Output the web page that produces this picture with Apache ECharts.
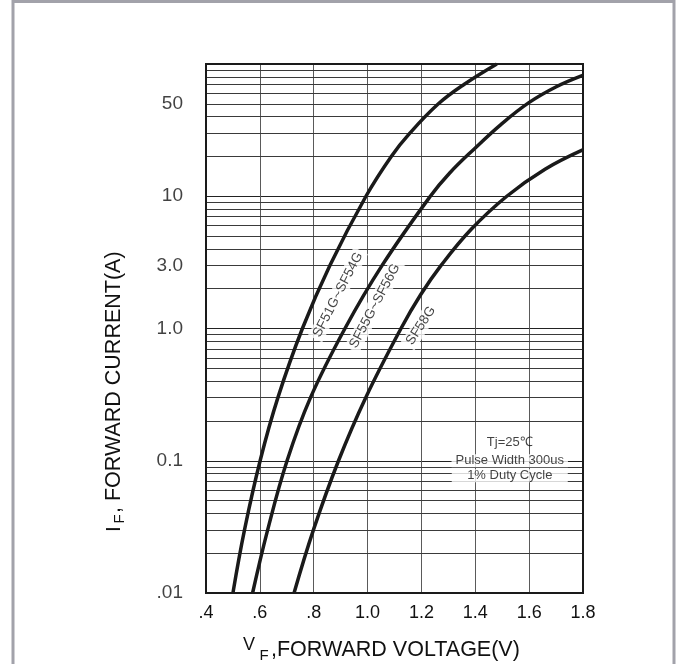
<!DOCTYPE html>
<html><head><meta charset="utf-8">
<script src="https://cdn.jsdelivr.net/npm/echarts@6/dist/echarts.min.js"></script>
<style>html,body{margin:0;padding:0;background:#fff}#c{width:678px;height:664px}</style>
</head><body><div id="c"></div>
<script>
// Tick labels
const xTickValues = [0.4, 0.6, 0.8, 1.0, 1.2, 1.4, 1.6, 1.8];
const xTickLabels = ['.4', '.6', '.8', '1.0', '1.2', '1.4', '1.6', '1.8'];
const yTickValues = [0.01, 0.1, 1, 3, 10, 50];
const yTickLabels = ['.01', '0.1', '1.0', '3.0', '10', '50'];

// Series names
const seriesNames = ['SF51G~SF54G', 'SF55G~SF56G', 'SF58G'];

// SF51G~SF54G : forward voltage VF (V) and forward current IF (A)
const vf1 = [0.500, 0.543, 0.601, 0.667, 0.758, 0.860, 0.994, 1.088, 1.157, 1.263, 1.358, 1.480];
const if1 = [0.01, 0.03, 0.1, 0.3, 1.0, 3.0, 10, 20, 30, 50, 70, 100];

// SF55G~SF56G
const vf2 = [0.573, 0.629, 0.701, 0.788, 0.916, 1.054, 1.233, 1.305, 1.398, 1.496, 1.599, 1.699, 1.799];
const if2 = [0.01, 0.03, 0.1, 0.3, 1.0, 3.0, 10, 15, 23, 35, 51, 67, 82];

// SF58G
const vf3 = [0.727, 0.799, 0.892, 0.993, 1.124, 1.197, 1.273, 1.384, 1.517, 1.659, 1.799];
const if3 = [0.01, 0.03, 0.1, 0.3, 1.0, 1.8, 3.0, 5.6, 10, 16, 22.4];

// Note text
const noteLines = ['Tj=25\u2103', 'Pulse Width 300us', '1% Duty Cycle'];

const FONT = '"Liberation Sans", Arial, Helvetica, sans-serif';
const INK = '#1a1a1a';
const TXT = '#111';

// minor log grid lines (2..9 x 10^k)
const minorGrid = [];
for (let k = -2; k <= 1; k++) {
  for (let m = 2; m <= 9; m++) minorGrid.push(parseFloat((m * Math.pow(10, k)).toPrecision(3)));
}

const zip = (xs, ys) => xs.map((x, i) => [x, ys[i]]);

const chart = echarts.init(document.getElementById('c'), null, { renderer: 'canvas' });

const curveStyle = { color: INK, width: 3.5 };
const curveBase = { type: 'line', z: 5, showSymbol: false, smooth: 0.4, lineStyle: curveStyle, itemStyle: { color: INK } };

chart.setOption({
  animation: false,
  backgroundColor: '#fff',
  textStyle: { fontFamily: FONT },
  grid: { left: 206, right: 95, top: 64, bottom: 71, containLabel: false },
  xAxis: {
    type: 'value', min: 0.4, max: 1.8, interval: 0.2,
    axisLine: { show: false }, axisTick: { show: false },
    axisLabel: {
      fontFamily: FONT, fontSize: 18, color: TXT, margin: 11,
      formatter: v => {
        const i = xTickValues.findIndex(t => Math.abs(t - v) < 1e-6);
        return i >= 0 ? xTickLabels[i] : '';
      }
    },
    splitLine: { show: true, lineStyle: { color: '#5a5a5a', width: 1 } }
  },
  yAxis: {
    type: 'log', logBase: 10, min: 0.01, max: 100,
    axisLine: { show: false }, axisTick: { show: false },
    axisLabel: { show: false },
    splitLine: { show: true, lineStyle: { color: '#222', width: 1 } }
  },
  graphic: [
    { type: 'rect', z: 100, silent: true,
      shape: { x: 13, y: 1.5, width: 661, height: 720 },
      style: { fill: 'none', stroke: '#a2a2aa', lineWidth: 3 } },
    { type: 'rect', z: 100, silent: true,
      shape: { x: 206, y: 64, width: 377, height: 529 },
      style: { fill: 'none', stroke: INK, lineWidth: 2 } },
    // x-axis title
    { type: 'text', z: 100, x: 249, y: 645,
      style: { text: 'V', font: '18px ' + FONT, fill: TXT, align: 'center', verticalAlign: 'middle' } },
    { type: 'text', z: 100, x: 264, y: 656,
      style: { text: 'F', font: '15px ' + FONT, fill: TXT, align: 'center', verticalAlign: 'middle' } },
    { type: 'text', z: 100, x: 271, y: 650,
      style: { text: ',FORWARD VOLTAGE(V)', font: '21.5px ' + FONT, fill: TXT, align: 'left', verticalAlign: 'middle' } },
    // y-axis title
    { type: 'text', z: 100, x: 114.5, y: 529, rotation: Math.PI / 2,
      style: { text: 'I', font: '21px ' + FONT, fill: TXT, align: 'center', verticalAlign: 'middle' } },
    { type: 'text', z: 100, x: 119.5, y: 519, rotation: Math.PI / 2,
      style: { text: 'F', font: '15px ' + FONT, fill: TXT, align: 'center', verticalAlign: 'middle' } },
    { type: 'text', z: 100, x: 114.5, y: 513, rotation: Math.PI / 2,
      style: { text: ', FORWARD CURRENT(A)', font: '21.5px ' + FONT, fill: TXT, align: 'left', verticalAlign: 'middle' } }
  ],
  series: [
    {
      name: 'ticks', type: 'scatter', z: 1, silent: true, clip: false,
      symbolSize: 0,
      data: yTickValues.map((v, i) => ({ value: [0.4, v], label: { formatter: yTickLabels[i] } })),
      label: { show: true, position: 'left', distance: 23, fontFamily: FONT, fontSize: 19, color: TXT },
      markLine: {
        z: 1, silent: true, symbol: ['none', 'none'], animation: false,
        label: { show: false },
        lineStyle: { color: '#3a3a3a', width: 1, type: 'solid' },
        data: minorGrid.map(v => ({ yAxis: v }))
      }
    },
    Object.assign({ name: seriesNames[0], data: zip(vf1, if1) }, curveBase),
    Object.assign({ name: seriesNames[1], data: zip(vf2, if2) }, curveBase),
    Object.assign({ name: seriesNames[2], data: zip(vf3, if3) }, curveBase),
    {
      name: 'curveLabels', type: 'scatter', z: 3, silent: true, clip: false, symbolSize: 0,
      label: { show: true, position: 'inside', fontFamily: FONT, fontSize: 13.5, color: TXT, backgroundColor: '#fff', padding: [1, 3] },
      data: [
        { value: [0.89, 1.8], label: { formatter: seriesNames[0], rotate: 62.6 } },
        { value: [1.027, 1.48], label: { formatter: seriesNames[1], rotate: 62 } },
        { value: [1.198, 1.05], label: { formatter: seriesNames[2], rotate: 57 } }
      ]
    },
    {
      name: 'note', type: 'scatter', z: 3, silent: true, clip: false, symbolSize: 0,
      label: { show: true, position: 'inside', fontFamily: FONT, fontSize: 13, color: TXT, backgroundColor: '#fff', padding: [0, 4], align: 'center' },
      data: [
        { value: [1.528, 0.137], label: { formatter: noteLines[0], backgroundColor: 'transparent' } },
        { value: [1.528, 0.1], label: { formatter: noteLines[1] } },
        { value: [1.528, 0.077], label: { formatter: noteLines[2], width: 108 } }
      ]
    }
  ]
});
</script>
</body></html>
